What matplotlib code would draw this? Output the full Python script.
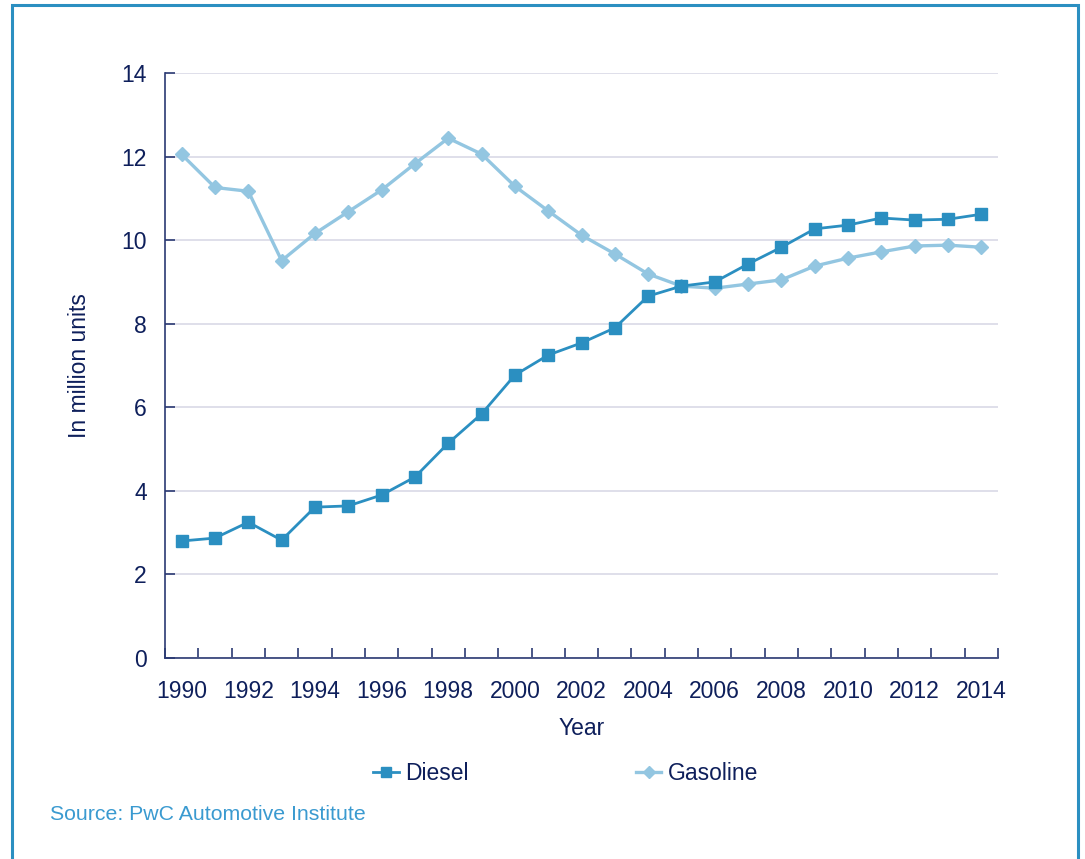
import matplotlib
matplotlib.use("Agg")
import matplotlib.pyplot as plt
from matplotlib.patches import Rectangle
from matplotlib.ticker import MultipleLocator, FixedLocator

plt.rcParams['font.family'] = ['Liberation Sans', 'DejaVu Sans']

years = list(range(1990, 2015))
diesel = [2.80, 2.87, 3.25, 2.82, 3.61, 3.64, 3.90, 4.33, 5.14, 5.84,
          6.77, 7.25, 7.54, 7.90, 8.66, 8.90, 9.00, 9.43, 9.83, 10.27,
          10.36, 10.53, 10.48, 10.50, 10.62]
gasoline = [12.05, 11.26, 11.17, 9.51, 10.16, 10.68, 11.20, 11.83, 12.44, 12.06,
            11.29, 10.70, 10.12, 9.67, 9.19, 8.90, 8.85, 8.95, 9.05, 9.38,
            9.57, 9.72, 9.86, 9.88, 9.83]
year_labels = [str(y) for y in range(1990, 2015, 2)]

navy = '#0e1f5b'
spine_col = '#2b3a73'
grid_col = '#dcdce8'
diesel_col = '#2b8fc1'
gas_col = '#93c6e1'
source_col = '#3a9ad0'
fs = 16.5

fig = plt.figure(figsize=(10.85, 8.59), dpi=100)
ax = fig.add_axes([165/1085, 1-658/859, (998-165)/1085, (658-73)/859])

ax.plot(years, gasoline, color=gas_col, lw=2.4, marker='D', ms=7.5,
        mec=gas_col, mfc=gas_col, label='Gasoline', zorder=3)
ax.plot(years, diesel, color=diesel_col, lw=2.0, marker='s', ms=9,
        mec=diesel_col, mfc=diesel_col, label='Diesel', zorder=4)

ax.set_xlim(1989.5, 2014.5)
ax.set_ylim(0, 14)
ax.yaxis.set_major_locator(MultipleLocator(2))
ax.set_xticks(list(range(1990, 2015, 2)))
ax.set_xticklabels(year_labels)
ax.xaxis.set_minor_locator(FixedLocator([y + 0.5 for y in range(1989, 2015)]))

ax.grid(axis='y', color=grid_col, lw=1.3)
ax.set_axisbelow(True)
for s in ['top', 'right']:
    ax.spines[s].set_visible(False)
for s in ['left', 'bottom']:
    ax.spines[s].set_color(spine_col)
    ax.spines[s].set_linewidth(1.2)

ax.tick_params(axis='x', which='major', length=0, pad=16, labelsize=fs, labelcolor=navy)
ax.tick_params(axis='x', which='minor', direction='in', length=7, width=1.2, color=spine_col)
ax.tick_params(axis='y', which='major', direction='in', length=7, width=1.2,
               color=spine_col, pad=13, labelsize=fs, labelcolor=navy)

ax.set_ylabel('In million units', fontsize=fs, color=navy, labelpad=22)
ax.set_xlabel('Year', fontsize=fs, color=navy, labelpad=10)

handles, labels = ax.get_legend_handles_labels()
leg = fig.legend([handles[1], handles[0]], [labels[1], labels[0]],
                 loc='center', bbox_to_anchor=(566/1085, 1-774/859), ncol=2,
                 frameon=False, fontsize=fs, handlelength=1.1, handletextpad=0.3,
                 columnspacing=7.3, markerscale=0.75)
for t in leg.get_texts():
    t.set_color(navy)

fig.text(50/1085, 1-814/859, 'Source: PwC Automotive Institute', fontsize=15.3,
         color=source_col, ha='left', va='center')

fig.patches.append(Rectangle((12/1085, -0.05), (1078-12)/1085, 1.05 - 5/859,
                             transform=fig.transFigure, fill=False,
                             edgecolor='#2b8fc1', lw=2.2))

fig.savefig('out.png', dpi=100)
